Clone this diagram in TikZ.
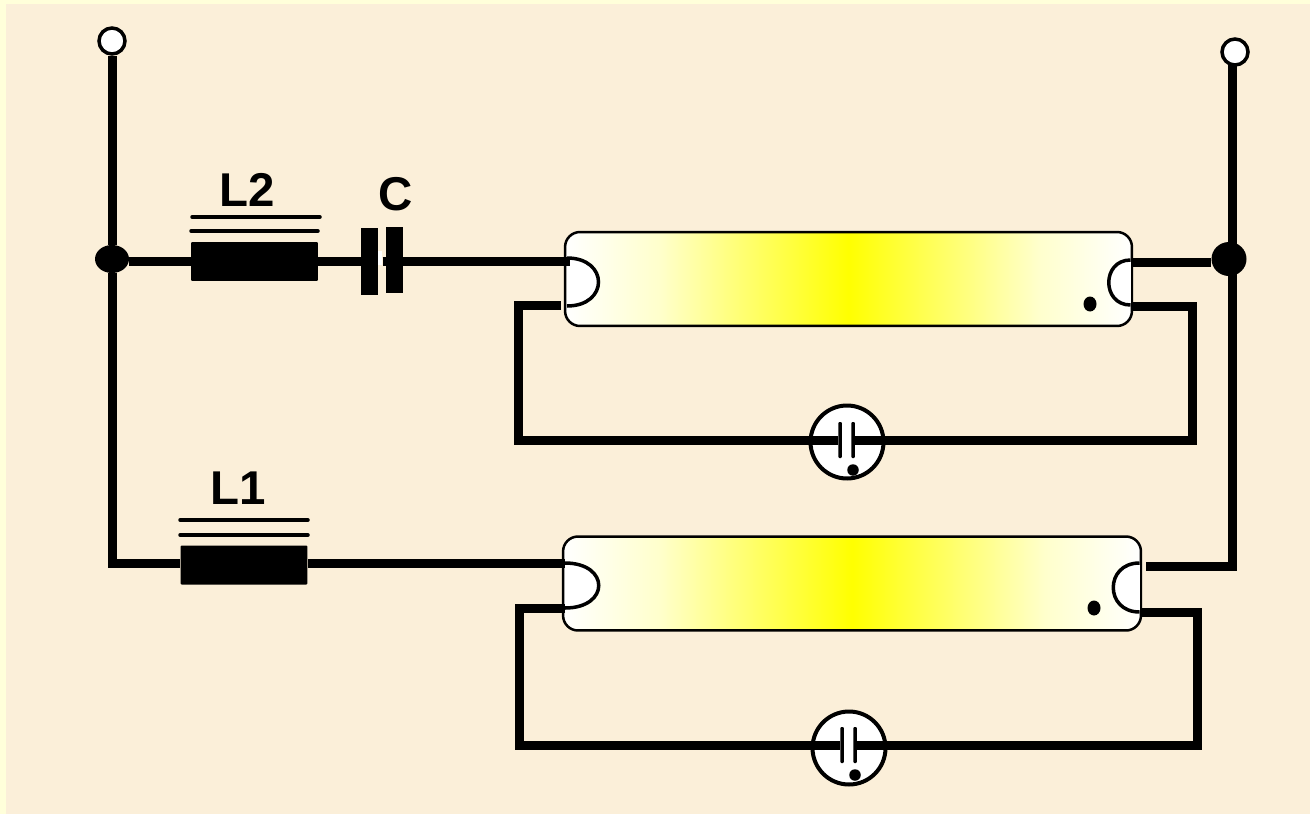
\documentclass[tikz,border=0pt]{standalone}
\usepackage{fontspec}
\setmainfont{Liberation Sans}
\usetikzlibrary{shapes.geometric}
\definecolor{paper}{HTML}{FBEFD9}
\definecolor{rim}{HTML}{FFFFDA}
\pgfdeclarehorizontalshading{lampglow}{100bp}{color(0bp)=(white); color(25bp)=(white);
  color(33.3bp)=(yellow!20!white); color(39.5bp)=(yellow!50!white); color(45.5bp)=(yellow!78!white);
  color(50bp)=(yellow); color(54.5bp)=(yellow!78!white); color(60.5bp)=(yellow!50!white);
  color(66.7bp)=(yellow!20!white); color(75bp)=(white); color(100bp)=(white)}

\begin{document}
\begin{tikzpicture}[x=0.02cm,y=-0.02cm,
  wire/.style={line width=0.18cm,line join=miter,line cap=butt},
  thin wire/.style={line width=0.07cm,line cap=round},
  terminal/.style={circle,draw,line width=0.07cm,fill=white,minimum size=0.52cm,inner sep=0},
  junction/.style={ellipse,fill=black,inner sep=0},
  lamp/.style={draw,line width=0.05cm,rounded corners=0.3cm,shading=lampglow,inner sep=0,minimum height=1.88cm},
  electrode/.style={draw,line width=0.07cm,fill=white},
  lampdot/.style={ellipse,fill=black,minimum width=0.26cm,minimum height=0.3cm,inner sep=0},
  core/.style={rectangle,fill=black,rounded corners=0.02cm,minimum width=2.54cm,minimum height=0.78cm,inner sep=0},
  plate/.style={rectangle,fill=black,minimum width=0.33cm,minimum height=1.34cm,inner sep=0},
  starter/.style={circle,draw,line width=0.08cm,fill=white,minimum size=1.46cm,inner sep=0},
  starterplate/.style={rectangle,fill=black,rounded corners=0.02cm,minimum width=0.07cm,minimum height=0.72cm,inner sep=0},
  starterdot/.style={circle,fill=black,minimum size=0.23cm,inner sep=0},
  lbl/.style={font=\fontsize{27}{30}\selectfont\bfseries,inner sep=0}]
\fill[rim] (0,0) rectangle (1310,814);
\fill[paper] (6,4) rectangle (1310,814);
% lamps
\node[lamp,minimum width=11.34cm] (lampA) at (848.5,279) {};
\node[lamp,minimum width=11.56cm] (lampB) at (852,583.5) {};
% electrodes
\coordinate (a1) at (567,258);
\coordinate (a2) at (567,306);
\coordinate (a3) at (1130.5,260);
\coordinate (a4) at (1130.5,305);
\coordinate (b1) at (565,563);
\coordinate (b2) at (565,608);
\coordinate (b3) at (1139.5,563);
\coordinate (b4) at (1139.5,612);
\path[electrode] (a1) .. controls +(42,0) and +(42,0) .. (a2);
\path[electrode] (a3) .. controls +(-29,0) and +(-29,0) .. (a4);
\path[electrode] (b1) .. controls +(45,0) and +(45,0) .. (b2);
\path[electrode] (b3) .. controls +(-35,0) and +(-35,0) .. (b4);
\node[lampdot] (dotA) at (1090,304) {};
\node[lampdot] (dotB) at (1094,608) {};
% supply side
\node[junction,minimum width=0.68cm,minimum height=0.56cm] (jL) at (112,259) {};
\node[junction,minimum width=0.7cm,minimum height=0.68cm] (jR) at (1229,259) {};
\node[terminal] (tL) at (112,41) {};
\node[terminal] (tR) at (1235,52) {};
% chokes and capacitor
\node[core] (L2) at (254.5,261.5) {};
\node[core] (L1) at (244,565) {};
\node[plate] (C1) at (369.5,261.5) {};
\node[plate] (C2) at (394.5,260) {};
\draw[thin wire] (192,217) -- (320,217);
\draw[thin wire] (191,231) -- (318,231);
\draw[thin wire] (180,520) -- (308,520);
\draw[thin wire] (180,535) -- (308,535);
\node[lbl] (lblL2) at (247,190) {L2};
\node[lbl] (lblC) at (396,194) {C};
\node[lbl] (lblL1) at (238,488) {L1};
% starters
\node[starter] (S1) at (847,442) {};
\node[starter] (S2) at (849,748) {};
\node[starterplate] (S1a) at (840,440) {};
\node[starterplate] (S1b) at (853,440) {};
\node[starterplate] (S2a) at (842,745) {};
\node[starterplate] (S2b) at (855,745) {};
\node[starterdot] (S1d) at (853,470) {};
\node[starterdot] (S2d) at (855,775) {};
% corners
\coordinate (k1) at (112,563);
\coordinate (k2) at (1232,566);
\coordinate (k3) at (518,305);
\coordinate (k4) at (518,440);
\coordinate (k5) at (1192,306);
\coordinate (k6) at (1192,440);
\coordinate (k7) at (519,608);
\coordinate (k8) at (519,745);
\coordinate (k9) at (1197,612);
\coordinate (k10) at (1197,745);
\coordinate (b5) at (1146,566);
\coordinate (t2) at (1232,64);
\coordinate (c1) at (570,261);
\coordinate (c2) at (1133,262);
\coordinate (c3) at (565,563);
\coordinate (c4) at (561,305);
\coordinate (c5) at (382.5,261);
\node[fill=white,minimum width=0.08cm,minimum height=0.28cm,inner sep=0] (C3) at (380.3,258) {};
% wires
\draw[wire] (tL) -- (jL);
\draw[wire] (jL) -- (k1) -- (L1.west |- k1);
\draw[wire] (L1.east |- c3) -- (c3);
\draw[wire] (jL.east |- c1) -- (L2.west |- c1);
\draw[wire] (L2.east |- c1) -- (C1.west |- c1);
\draw[wire] (c5) -- (c1);
\draw[wire] (c2) -- (jR.west |- c2);
\draw[wire] (t2) -- (k2) -- (b5);
\draw[wire] (c4) -- (k3) -- (k4) -- (S1a);
\draw[wire] (S1b) -- (k6) -- (k5) -- (a4 |- k5);
\draw[wire] (b2) -- (k7) -- (k8) -- (S2a);
\draw[wire] (S2b) -- (k10) -- (k9) -- (b4);
\end{tikzpicture}
\end{document}
